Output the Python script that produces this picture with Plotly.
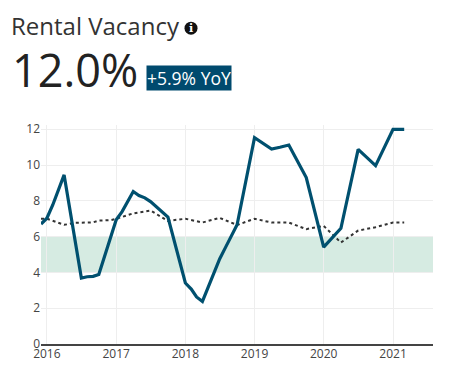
import plotly.graph_objects as go

vacancy_dates = ["2015-12-01","2016-01-01","2016-02-01","2016-04-01","2016-07-01","2016-08-01","2016-09-01","2016-10-01",
    "2017-01-01","2017-02-01","2017-04-01","2017-05-01","2017-06-01","2017-07-01","2017-10-01",
    "2018-01-01","2018-02-01","2018-03-01","2018-04-01","2018-07-01","2018-08-01","2018-10-01",
    "2019-01-01","2019-04-01","2019-05-15","2019-07-01","2019-10-01",
    "2020-01-01","2020-04-01","2020-07-01","2020-10-01","2021-01-01","2021-03-01"]
vacancy_values = [6.7,7.03,7.77,9.45,3.69,3.76,3.78,3.89,
    6.94,7.4,8.52,8.3,8.17,7.96,7.09,
    3.41,3.07,2.63,2.38,4.75,5.4,6.66,
    11.53,10.9,11.0,11.12,9.3,
    5.41,6.47,10.88,9.97,12.0,12.0]

bench_dates = ["2015-12-01","2016-01-01","2016-04-01","2016-06-01","2016-09-01","2016-10-01","2016-12-01",
    "2017-01-01","2017-04-01","2017-07-01","2017-10-01",
    "2018-01-01","2018-04-01","2018-07-01","2018-10-01",
    "2019-01-01","2019-04-01","2019-07-01","2019-10-01",
    "2020-01-01","2020-04-01","2020-07-01","2020-10-01","2021-01-01","2021-03-01"]
bench_values = [7.0,7.0,6.66,6.77,6.8,6.9,6.92,
    7.0,7.3,7.46,6.88,
    7.0,6.79,7.05,6.65,
    7.0,6.79,6.79,6.42,
    6.6,5.67,6.34,6.53,6.79,6.79]

y_ticks = [0,2,4,6,8,10,12]
x_ticks = ["2016-01-01","2017-01-01","2018-01-01","2019-01-01","2020-01-01","2021-01-01"]
x_tick_labels = ["2016","2017","2018","2019","2020","2021"]
band = [4,6]
title = "Rental Vacancy"
headline = "12.0%"
badge = "+5.9% YoY"

FONT = "Open Sans"
# the page has an 8px body margin: figure sits at (8, 8)
W, H = 443, 370
L, R, T, B = 33, 18, 117, 33.5
PW, PH = W - L - R, H - T - B
def px(x): return (x - 8 - L) / PW
def py(y): return (8 + H - B - y) / PH

fig = go.Figure()
fig.add_trace(go.Scatter(x=bench_dates, y=bench_values, mode="lines",
    line=dict(color="#333333", width=2, dash="dot"), hoverinfo="skip"))
fig.add_trace(go.Scatter(x=vacancy_dates, y=vacancy_values, mode="lines",
    line=dict(color="#00506f", width=3.2), hoverinfo="skip"))

fig.add_shape(type="rect", xref="paper", x0=0, x1=1, yref="y", y0=band[0], y1=band[1],
    fillcolor="#d6ebe2", line_width=0, layer="below")

fig.add_shape(type="circle", xref="paper", yref="paper", xsizemode="pixel", ysizemode="pixel",
    xanchor=px(191), yanchor=py(28), x0=-6.5, x1=6.5, y0=-6.5, y1=6.5, fillcolor="#111111", line_width=0)

ann = dict(xref="paper", yref="paper", showarrow=False, xanchor="left", yanchor="middle")
fig.update_layout(
    width=W, height=H, autosize=False,
    margin=dict(l=L, r=R, t=T, b=B),
    paper_bgcolor="white", plot_bgcolor="white", showlegend=False,
    font=dict(family=FONT, color="#444444", size=12),
    xaxis=dict(type="date", range=["2015-12-01","2021-07-31"], tickvals=x_ticks, ticktext=x_tick_labels,
        showgrid=True, gridcolor="#eeeeee", gridwidth=1, zeroline=False,
        showline=True, linecolor="#444444", linewidth=1.5, ticks="", ticklabelstandoff=-2,
        tickfont=dict(size=12, color="#444444")),
    yaxis=dict(range=[0,12.24], tickvals=y_ticks, showgrid=True, gridcolor="#eeeeee", gridwidth=1,
        zeroline=False, showline=False, ticks="", tickfont=dict(size=12, color="#444444")),
    annotations=[
        dict(ann, text=title, x=px(9), y=py(25), font=dict(family=FONT, size=24, color="#333333")),
        dict(ann, text=headline, x=px(10), y=py(69), font=dict(family=FONT, size=45, color="#222222")),
        dict(ann, text=badge, x=px(146), y=py(77.5), bgcolor="#004a6e", borderpad=0, font=dict(family=FONT, size=17.5, color="#ffffff")),
        dict(ann, text="<b>i</b>", x=px(191), xanchor="center", y=py(28), font=dict(family="DejaVu Serif", size=11, color="#ffffff")),
    ],
)
fig.write_html("out.html")
